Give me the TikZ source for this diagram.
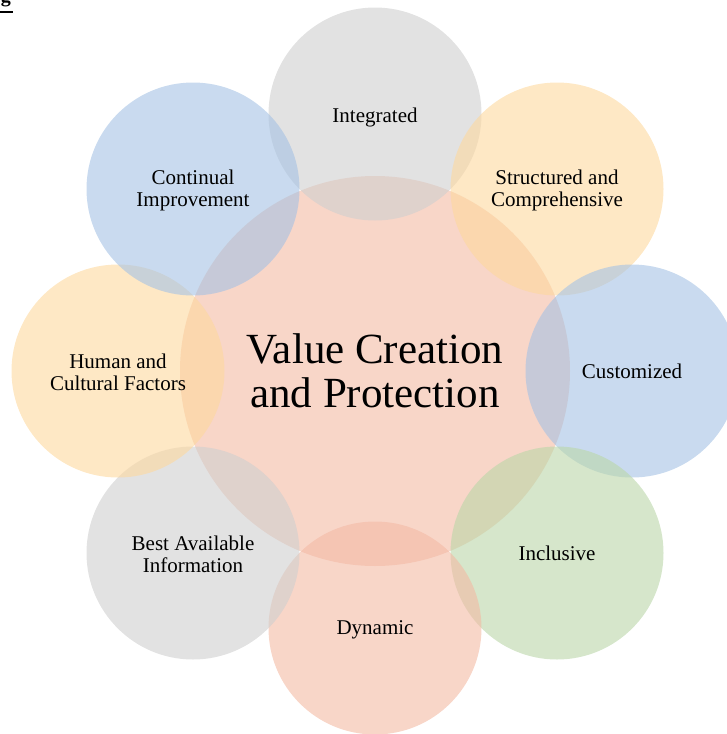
\documentclass[tikz,border=0pt]{standalone}
\usepackage{fontspec}
\setmainfont{Liberation Serif}
\usetikzlibrary{positioning}

\definecolor{accgrey}{RGB}{207,207,207}
\definecolor{accgold}{RGB}{253,216,158}
\definecolor{accblue}{RGB}{165,194,228}
\definecolor{accgreen}{RGB}{186,214,168}
\definecolor{accorange}{RGB}{243,186,164}

\tikzset{
  petal/.style={circle, minimum size=213pt, inner sep=0pt, fill opacity=0.6},
  hub/.style={circle, minimum size=390pt, inner sep=0pt, fill opacity=0.6,
    text opacity=1, align=center, font=\fontsize{43}{44}\selectfont},
  tag/.style={align=center, inner sep=0pt, font=\fontsize{21}{22}\selectfont}
}

\begin{document}
\begin{tikzpicture}[x=1pt, y=-1pt]
	\useasboundingbox (0,0) rectangle (727,734);
	% cut-off heading in the corner
	\begin{scope}
		\clip (0,0) rectangle (40,20);
		\node[anchor=base, font=\fontsize{20}{20}\selectfont\bfseries, inner sep=0pt] (head) at (6,2) {g};
		\draw[line width=2pt] (0,12) -- (13,12);
	\end{scope}
	% centre
	\node[hub, fill=accorange] (value) at (375,371) {Value Creation\\and Protection};
	% ring of principles
	\node[petal, fill=accgrey] (integ) at (375,114) {};
	\node[petal, fill=accgold] (struct) at (557,189) {};
	\node[petal, fill=accblue] (custom) at (632,371) {};
	\node[petal, fill=accgreen] (incl) at (557,553) {};
	\node[petal, fill=accorange] (dyn) at (375,628) {};
	\node[petal, fill=accgrey] (info) at (193,553) {};
	\node[petal, fill=accgold] (human) at (118,371) {};
	\node[petal, fill=accblue] (improve) at (193,189) {};
	% labels
	\node[tag] (integ-t) at ([yshift=-3pt]integ.center) {Integrated};
	\node[tag] (struct-t) at ([yshift=-1pt]struct.center) {Structured and\\Comprehensive};
	\node[tag] (custom-t) at ([yshift=0pt]custom.center) {Customized};
	\node[tag] (incl-t) at ([yshift=0pt]incl.center) {Inclusive};
	\node[tag] (dyn-t) at ([yshift=-2pt]dyn.center) {Dynamic};
	\node[tag] (info-t) at ([yshift=-1pt]info.center) {Best Available\\Information};
	\node[tag] (human-t) at ([yshift=-1pt]human.center) {Human and\\Cultural Factors};
	\node[tag] (improve-t) at ([yshift=-1pt]improve.center) {Continual\\Improvement};
\end{tikzpicture}
\end{document}
